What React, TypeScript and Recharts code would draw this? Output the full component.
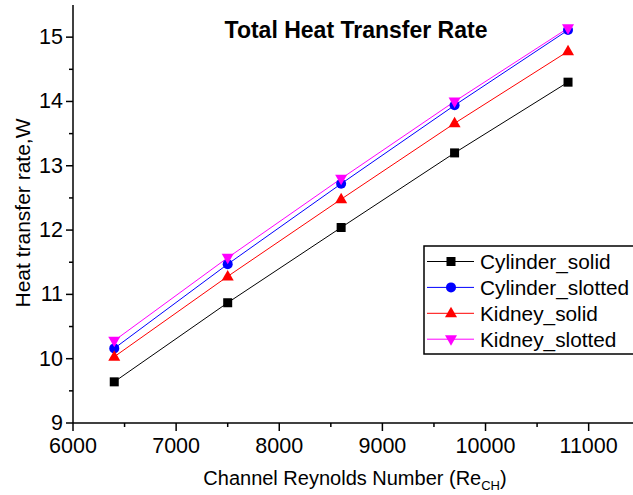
import { Line, LineChart, XAxis, YAxis } from "recharts";

const reynolds = [6400, 7500, 8600, 9700, 10800];
const cylinderSolid = [9.64, 10.87, 12.04, 13.2, 14.3];
const cylinderSlotted = [10.16, 11.47, 12.72, 13.94, 15.11];
const kidneySolid = [10.03, 11.28, 12.48, 13.66, 14.78];
const kidneySlotted = [10.28, 11.57, 12.8, 14.0, 15.14];

const seriesNames = ["Cylinder_solid", "Cylinder_slotted", "Kidney_solid", "Kidney_slotted"];
const seriesKeys = ["cs", "csl", "ks", "ksl"];
const seriesColors = ["#000000", "#0000ff", "#ff0000", "#ff00ff"];
const seriesShapes = ["square", "circle", "triangle", "triangleDown"];

const xTicks = [6000, 6500, 7000, 7500, 8000, 8500, 9000, 9500, 10000, 10500, 11000];
const xTickLabels = ["6000", "7000", "8000", "9000", "10000", "11000"];
const yTicks = [9, 9.5, 10, 10.5, 11, 11.5, 12, 12.5, 13, 13.5, 14, 14.5, 15];
const yTickLabels = ["9", "10", "11", "12", "13", "14", "15"];

const FONT = "'Liberation Sans', Arial, sans-serif";

const rows = reynolds.map((re, i) => ({
  re,
  cs: cylinderSolid[i],
  csl: cylinderSlotted[i],
  ks: kidneySolid[i],
  ksl: kidneySlotted[i],
}));

// 마커 모양
function Marker({ cx, cy, shape, color }: { cx: number; cy: number; shape: string; color: string }) {
  if (shape === "square") {
    return <rect x={cx - 4.5} y={cy - 4.5} width={9} height={9} fill={color} />;
  }
  if (shape === "circle") {
    return <circle cx={cx} cy={cy} r={5} fill={color} />;
  }
  if (shape === "triangle") {
    return <polygon points={`${cx},${cy - 6.5} ${cx - 6},${cy + 4} ${cx + 6},${cy + 4}`} fill={color} />;
  }
  return <polygon points={`${cx},${cy + 6.5} ${cx - 6},${cy - 4} ${cx + 6},${cy - 4}`} fill={color} />;
}

function XTick({ x, y, payload }: any) {
  const label = String(payload.value);
  const major = xTickLabels.includes(label);
  return (
    <g>
      <line x1={x} x2={x} y1={y} y2={y + (major ? 8 : 4)} stroke="#000" strokeWidth={1.5} />
      {major && (
        <text x={x} y={y + 30} textAnchor="middle" fontSize={21.5} fontFamily={FONT} fill="#000">
          {label}
        </text>
      )}
    </g>
  );
}

function YTick({ x, y, payload }: any) {
  const label = String(payload.value);
  const major = yTickLabels.includes(label);
  return (
    <g>
      <line x1={x - (major ? 7 : 4)} x2={x} y1={y} y2={y} stroke="#000" strokeWidth={1.5} />
      {major && (
        <text x={x - 10} y={y} textAnchor="end" dominantBaseline="central" fontSize={21.5} fontFamily={FONT} fill="#000">
          {label}
        </text>
      )}
    </g>
  );
}

export default function App() {
  return (
    <div style={{ position: "absolute", left: 0, top: 0, width: 633, height: 495, background: "#fff" }}>
      <LineChart width={633} height={495} data={rows} margin={{ top: 5, right: 0, left: 0, bottom: 0 }}>
        <XAxis
          dataKey="re"
          type="number"
          domain={[6000, 11430]}
          ticks={xTicks}
          height={72}
          tickSize={0}
          tickMargin={0}
          tickLine={false}
          tick={<XTick />}
          axisLine={{ stroke: "#000", strokeWidth: 1.5 }}
          allowDataOverflow
        />
        <YAxis
          type="number"
          domain={[9, 15.5]}
          ticks={yTicks}
          width={73}
          tickSize={0}
          tickMargin={0}
          tickLine={false}
          tick={<YTick />}
          axisLine={{ stroke: "#000", strokeWidth: 1.5 }}
          allowDataOverflow
        />
        {seriesKeys.map((k, i) => (
          <Line
            key={k}
            dataKey={k}
            stroke={seriesColors[i]}
            strokeWidth={1}
            isAnimationActive={false}
            dot={(p: any) => (
              <Marker key={`${k}-${p.index}`} cx={p.cx} cy={p.cy} shape={seriesShapes[i]} color={seriesColors[i]} />
            )}
            activeDot={false}
          />
        ))}
      </LineChart>
      <svg
        width={633}
        height={495}
        style={{ position: "absolute", left: 0, top: 0, pointerEvents: "none" }}
        fontFamily={FONT}
      >
        <text x={356} y={38} textAnchor="middle" fontSize={23} fontWeight="bold" fill="#000">
          Total Heat Transfer Rate
        </text>
        <text
          x={22}
          y={213}
          textAnchor="middle"
          dominantBaseline="central"
          fontSize={21}
          fill="#000"
          transform="rotate(-90 22 213)"
        >
          Heat transfer rate,W
        </text>
        <text x={355} y={485} textAnchor="middle" fontSize={20} fill="#000">
          Channel Reynolds Number (Re
          <tspan fontSize={13} dy={5}>CH</tspan>
          <tspan dy={-5}>)</tspan>
        </text>
        {/* 범례 */}
        <rect x={424} y={246} width={260} height={108} fill="#fff" stroke="#000" strokeWidth={1.5} />
        {seriesNames.map((name, i) => {
          const cy = 261.5 + i * 25.9;
          return (
            <g key={name}>
              <line x1={427} x2={474} y1={cy} y2={cy} stroke={seriesColors[i]} strokeWidth={1} />
              <Marker cx={451} cy={cy} shape={seriesShapes[i]} color={seriesColors[i]} />
              <text x={480} y={cy} dominantBaseline="central" fontSize={20.8} fill="#000">
                {name}
              </text>
            </g>
          );
        })}
      </svg>
    </div>
  );
}
